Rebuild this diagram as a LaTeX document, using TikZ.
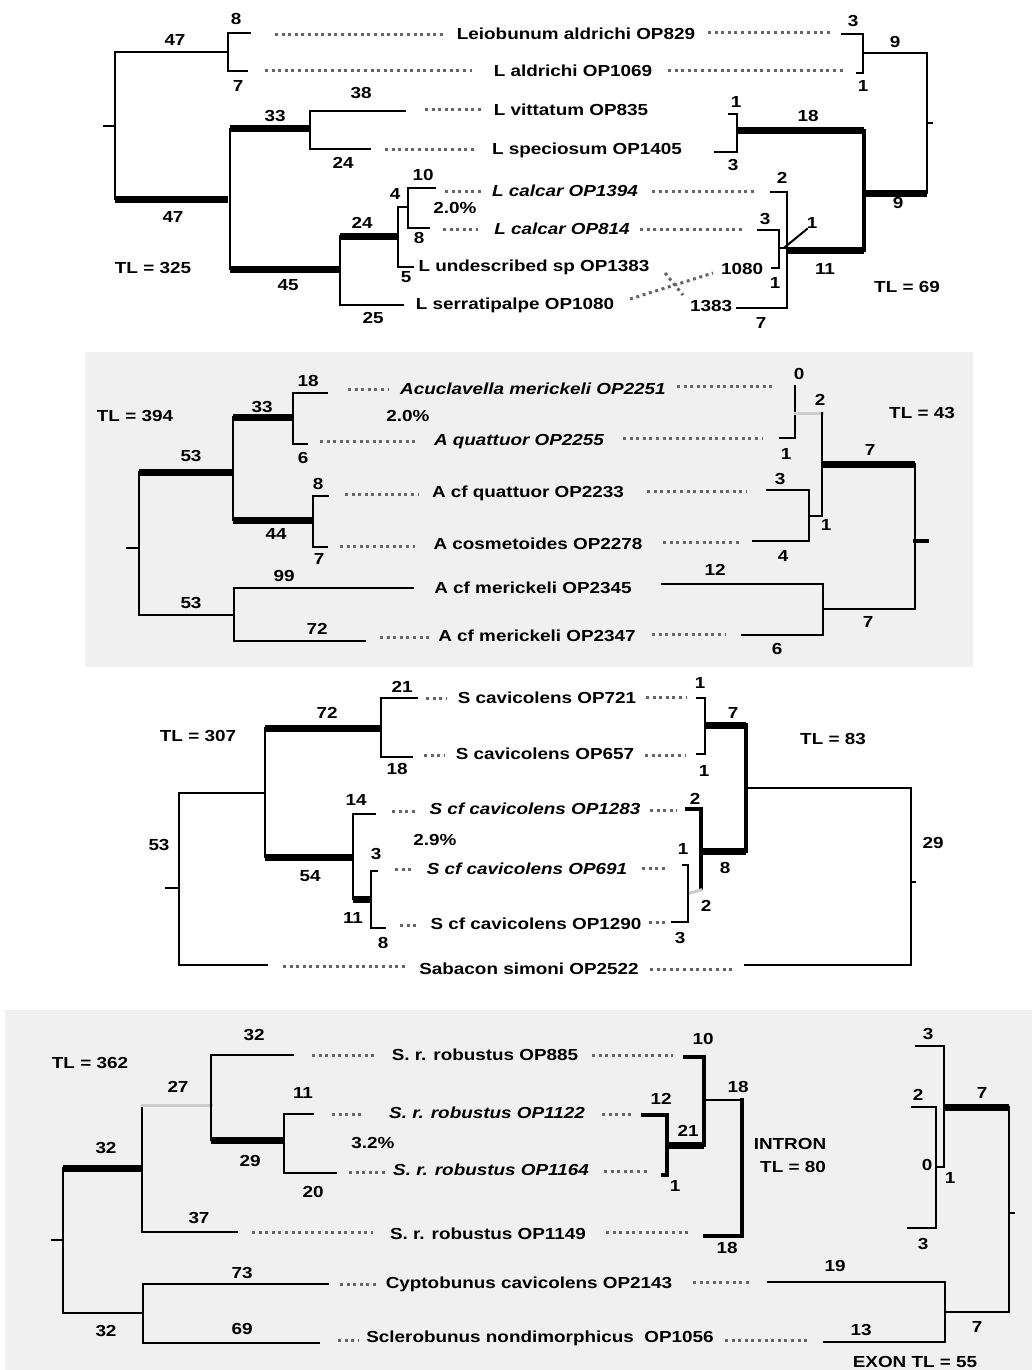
\documentclass[tikz,border=0pt]{standalone}
\usepackage{fontspec}
\setmainfont{Liberation Sans}[FakeStretch=1.18]
\tikzset{
  br/.style={line width=2pt},
  thk/.style={line width=7pt, line cap=butt},
  mid/.style={line width=3.2pt},
  faint/.style={gray!40, line width=3pt},
  dots/.style={black!60, line width=3pt, line cap=butt, dash pattern=on 3pt off 3.6pt},
  lbl/.style={font=\bfseries\fontsize{16}{16}\selectfont, inner sep=0pt, text height=11.5pt, text depth=0pt},
  taxon/.style={lbl},
  itaxon/.style={lbl, font=\bfseries\itshape\fontsize{16}{16}\selectfont},
  panel/.style={fill=black!6, draw=none}
}
\begin{document}
\begin{tikzpicture}[x=1pt, y=-1pt, line cap=rect]
\useasboundingbox (0,0) rectangle (1032,1370);
\fill[white] (0,0) rectangle (1032,1370);
% shaded panels
\fill[panel] (85,352) rectangle (973,667);
\fill[panel] (5,1010) rectangle (1032,1370);

%%% Panel 1 -- Leiobunum
% left tree
\draw[br] (104,126) -- (115,126);
\draw[br] (228,52) -- (115,52) -- (115,199);
\draw[thk] (115,199) -- (228,199);
\draw[br] (250,33) -| (228,71) -- (247,71);
\draw[br] (230,129) -- (230,269);
\draw[thk] (230,129) -- (310,129);
\draw[br] (405,111) -| (310,149) -- (370,149);
\draw[thk] (230,269) -- (340,269);
\draw[br] (340,236) -- (340,305) -- (403,305);
\draw[thk] (340,236) -- (398,236);
\draw[br] (408,207) -| (398,267) -- (413,267);
\draw[br] (435,188) -| (408,228) -- (429,228);
\node[lbl] (a1) at (175,40) {47};
\node[lbl] (a2) at (236,19) {8};
\node[lbl] (a3) at (238,86) {7};
\node[lbl] (a4) at (173,217) {47};
\node[lbl] (a5) at (275,116) {33};
\node[lbl] (a6) at (361,93) {38};
\node[lbl] (a7) at (343,163) {24};
\node[lbl] (a8) at (288,285) {45};
\node[lbl] (a9) at (362,223) {24};
\node[lbl] (a10) at (395,194) {4};
\node[lbl] (a11) at (423,175) {10};
\node[lbl] (a12) at (455,208) {2.0\%};
\node[lbl] (a13) at (419,238) {8};
\node[lbl] (a14) at (406,277) {5};
\node[lbl] (a15) at (373,318) {25};
\node[lbl] (a16) at (153,268) {TL = 325};
% taxa
\node[taxon] (t11) at (576,34) {Leiobunum aldrichi OP829};
\node[taxon] (t12) at (573,71) {L aldrichi OP1069};
\node[taxon] (t13) at (571,110) {L vittatum OP835};
\node[taxon] (t14) at (587,149) {L speciosum OP1405};
\node[itaxon] (t15) at (565,191) {L calcar OP1394};
\node[itaxon] (t16) at (562,229) {L calcar OP814};
\node[taxon] (t17) at (534,266) {L undescribed sp OP1383};
\node[taxon] (t18) at (515,304) {L serratipalpe OP1080};
\draw[dots] (275,35) -- (443,35);
\draw[dots] (265,71) -- (472,71);
\draw[dots] (425,110) -- (482,110);
\draw[dots] (385,149) -- (477,149);
\draw[dots] (445,191) -- (482,191);
\draw[dots] (443,229) -- (478,229);
\draw[dots] (708,33) -- (830,33);
\draw[dots] (668,71) -- (843,71);
\draw[dots] (652,191) -- (755,191);
\draw[dots] (640,229) -- (742,229);
\draw[dots] (630,299) -- (713,273);
\draw[dots] (665,273) -- (683,295);
% right tree
\draw[br] (842,34) -| (863,73) -- (857,73);
\draw[br] (863,53) -- (927,53) -- (927,193);
\draw[br] (927,123) -- (932,123);
\draw[thk] (927,193) -- (864,193);
\draw[mid] (864,131) -- (864,250);
\draw[thk] (864,131) -- (737,131);
\draw[br] (729,114) -| (737,152) -- (715,152);
\draw[thk] (864,250) -- (787,250);
\draw[br] (771,192) -| (787,308) -- (737,308);
\draw[br] (758,230) -| (779,268) -- (772,268);
\draw[br] (779,248) -- (787,248);
\draw[br] (785,247) -- (807,229);
\node[lbl] (b1) at (853,21) {3};
\node[lbl] (b2) at (895,42) {9};
\node[lbl] (b3) at (863,86) {1};
\node[lbl] (b4) at (736,102) {1};
\node[lbl] (b5) at (808,116) {18};
\node[lbl] (b6) at (733,165) {3};
\node[lbl] (b7) at (898,203) {9};
\node[lbl] (b8) at (782,178) {2};
\node[lbl] (b9) at (765,219) {3};
\node[lbl] (b10) at (812,223) {1};
\node[lbl] (b11) at (742,269) {1080};
\node[lbl] (b12) at (775,283) {1};
\node[lbl] (b13) at (711,306) {1383};
\node[lbl] (b14) at (761,323) {7};
\node[lbl] (b15) at (825,269) {11};
\node[lbl] (b16) at (907,287) {TL = 69};

%%% Panel 2 -- Acuclavella
% left tree
\draw[br] (127,548) -- (139,548);
\draw[br] (139,472) -- (139,615) -- (234,615);
\draw[thk] (139,472) -- (233,472);
\draw[br] (233,417) -- (233,520);
\draw[thk] (233,417) -- (293,417);
\draw[br] (327,393) -| (293,444) -- (307,444);
\draw[thk] (233,520) -- (313,520);
\draw[br] (328,496) -| (313,547) -- (327,547);
\draw[br] (413,588) -| (234,641) -- (365,641);
\node[lbl] (c1) at (191,456) {53};
\node[lbl] (c2) at (262,407) {33};
\node[lbl] (c3) at (308,381) {18};
\node[lbl] (c4) at (303,458) {6};
\node[lbl] (c5) at (408,416) {2.0\%};
\node[lbl] (c6) at (318,484) {8};
\node[lbl] (c7) at (276,534) {44};
\node[lbl] (c8) at (319,559) {7};
\node[lbl] (c9) at (284,576) {99};
\node[lbl] (c10) at (191,603) {53};
\node[lbl] (c11) at (317,629) {72};
\node[lbl] (c12) at (135,416) {TL = 394};
% taxa
\node[itaxon] (t21) at (533,389) {Acuclavella merickeli OP2251};
\node[itaxon] (t22) at (519,440) {A quattuor OP2255};
\node[taxon] (t23) at (528,492) {A cf quattuor OP2233};
\node[taxon] (t24) at (538,544) {A cosmetoides OP2278};
\node[taxon] (t25) at (533,588) {A cf merickeli OP2345};
\node[taxon] (t26) at (537,636) {A cf merickeli OP2347};
\draw[dots] (348,389) -- (388,389);
\draw[dots] (320,441) -- (418,441);
\draw[dots] (345,494) -- (418,494);
\draw[dots] (340,546) -- (415,546);
\draw[dots] (380,637) -- (430,637);
\draw[dots] (677,386) -- (773,386);
\draw[dots] (623,438) -- (762,438);
\draw[dots] (647,491) -- (747,491);
\draw[dots] (663,542) -- (740,542);
\draw[dots] (652,634) -- (725,634);
% right tree
\draw[br] (795,386) -- (795,438) -- (780,438);
\draw[faint] (795,413) -- (822,413);
\draw[br] (822,413) -- (822,516) -- (809,516);
\draw[thk] (822,464) -- (915,464);
\draw[br] (915,464) -- (915,609) -- (823,609);
\draw[mid] (915,541) -- (927,541);
\draw[br] (767,490) -| (809,541) -- (753,541);
\draw[br] (662,584) -| (823,635) -- (742,635);
\node[lbl] (d1) at (799,374) {0};
\node[lbl] (d2) at (820,400) {2};
\node[lbl] (d3) at (786,454) {1};
\node[lbl] (d4) at (922,413) {TL = 43};
\node[lbl] (d5) at (870,450) {7};
\node[lbl] (d6) at (780,479) {3};
\node[lbl] (d7) at (826,525) {1};
\node[lbl] (d8) at (783,556) {4};
\node[lbl] (d9) at (715,570) {12};
\node[lbl] (d10) at (868,622) {7};
\node[lbl] (d11) at (777,649) {6};

%%% Panel 3 -- Sabacon
% left tree
\draw[br] (166,888) -- (179,888);
\draw[br] (265,793) -| (179,965) -- (267,965);
\draw[br] (265,728) -- (265,857);
\draw[thk] (265,728) -- (381,728);
\draw[br] (417,698) -| (381,757) -- (412,757);
\draw[thk] (265,857) -- (353,857);
\draw[br] (375,814) -| (353,899);
\draw[thk] (353,899) -- (371,899);
\draw[br] (377,871) -| (371,928) -- (385,928);
\node[lbl] (e1) at (402,687) {21};
\node[lbl] (e2) at (327,713) {72};
\node[lbl] (e3) at (198,736) {TL = 307};
\node[lbl] (e4) at (397,769) {18};
\node[lbl] (e5) at (356,800) {14};
\node[lbl] (e6) at (159,845) {53};
\node[lbl] (e7) at (435,840) {2.9\%};
\node[lbl] (e8) at (376,854) {3};
\node[lbl] (e9) at (310,876) {54};
\node[lbl] (e10) at (353,918) {11};
\node[lbl] (e11) at (383,943) {8};
% taxa
\node[taxon] (t31) at (547,698) {S cavicolens OP721};
\node[taxon] (t32) at (545,754) {S cavicolens OP657};
\node[itaxon] (t33) at (535,809) {S cf cavicolens OP1283};
\node[itaxon] (t34) at (527,869) {S cf cavicolens OP691};
\node[taxon] (t35) at (536,924) {S cf cavicolens OP1290};
\node[taxon] (t36) at (529,969) {Sabacon simoni OP2522};
\draw[dots] (426,698) -- (446,698);
\draw[dots] (424,755) -- (445,755);
\draw[dots] (392,811) -- (418,811);
\draw[dots] (395,869) -- (413,869);
\draw[dots] (400,925) -- (418,925);
\draw[dots] (283,966) -- (407,966);
\draw[dots] (646,697) -- (687,697);
\draw[dots] (645,755) -- (686,755);
\draw[dots] (650,810) -- (677,810);
\draw[dots] (642,868) -- (668,868);
\draw[dots] (649,922) -- (666,922);
\draw[dots] (650,969) -- (733,969);
% right tree
\draw[br] (697,698) -| (705,754) -- (697,754);
\draw[thk] (705,725) -- (746,725);
\draw[mid] (746,725) -- (746,851);
\draw[br] (746,788) -- (911,788) -- (911,965) -- (745,965);
\draw[br] (911,882) -- (915,882);
\draw[thk] (746,851) -- (701,851);
\draw[mid] (687,809) -| (701,888);
\draw[faint] (701,890) -- (690,893);
\draw[br] (683,865) -| (688,922) -- (672,922);
\node[lbl] (f1) at (700,683) {1};
\node[lbl] (f2) at (733,713) {7};
\node[lbl] (f3) at (833,739) {TL = 83};
\node[lbl] (f4) at (704,771) {1};
\node[lbl] (f5) at (695,799) {2};
\node[lbl] (f6) at (933,843) {29};
\node[lbl] (f7) at (683,849) {1};
\node[lbl] (f8) at (725,868) {8};
\node[lbl] (f9) at (706,906) {2};
\node[lbl] (f10) at (680,938) {3};

%%% Panel 4 -- Sclerobunus
% left tree
\draw[br] (52,1240) -- (63,1240);
\draw[thk] (63,1168) -- (142,1168);
\draw[br] (63,1168) -- (63,1313) -- (143,1313);
\draw[br] (142,1105) -- (142,1232) -- (237,1232);
\draw[faint] (142,1105) -- (211,1105);
\draw[br] (293,1055) -| (211,1140);
\draw[thk] (211,1140) -- (284,1140);
\draw[br] (313,1114) -| (284,1173) -- (336,1173);
\draw[br] (328,1284) -| (143,1343) -- (319,1343);
\node[lbl] (g1) at (254,1035) {32};
\node[lbl] (g2) at (90,1063) {TL = 362};
\node[lbl] (g3) at (178,1087) {27};
\node[lbl] (g4) at (303,1093) {11};
\node[lbl] (g5) at (106,1148) {32};
\node[lbl] (g6) at (373,1143) {3.2\%};
\node[lbl] (g7) at (250,1161) {29};
\node[lbl] (g8) at (313,1192) {20};
\node[lbl] (g9) at (199,1218) {37};
\node[lbl] (g10) at (242,1273) {73};
\node[lbl] (g11) at (106,1331) {32};
\node[lbl] (g12) at (242,1329) {69};
% taxa
\node[taxon] (t41) at (485,1055) {S. r. robustus OP885};
\node[itaxon] (t42) at (487,1113) {S. r. robustus OP1122};
\node[itaxon] (t43) at (491,1170) {S. r. robustus OP1164};
\node[taxon] (t44) at (488,1234) {S. r. robustus OP1149};
\node[taxon] (t45) at (529,1283) {Cyptobunus cavicolens OP2143};
\node[taxon] (t46) at (540,1337) {Sclerobunus nondimorphicus\ \ OP1056};
\draw[dots] (312,1055) -- (378,1055);
\draw[dots] (332,1114) -- (365,1114);
\draw[dots] (349,1172) -- (385,1172);
\draw[dots] (252,1232) -- (373,1232);
\draw[dots] (340,1284) -- (377,1284);
\draw[dots] (338,1340) -- (359,1340);
\draw[dots] (592,1055) -- (673,1055);
\draw[dots] (602,1114) -- (634,1114);
\draw[dots] (604,1171) -- (648,1171);
\draw[dots] (606,1232) -- (689,1232);
\draw[dots] (693,1282) -- (752,1282);
\draw[dots] (725,1340) -- (808,1340);
% intron tree
\draw[mid] (685,1057) -| (704,1145);
\draw[thk] (704,1145) -- (667,1145);
\draw[mid] (643,1115) -| (667,1175) -- (663,1175);
\draw[br] (704,1100) -- (742,1100);
\draw[mid] (742,1100) -- (742,1236) -- (705,1236);
\node[lbl] (h1) at (703,1039) {10};
\node[lbl] (h2) at (738,1087) {18};
\node[lbl] (h3) at (661,1099) {12};
\node[lbl] (h4) at (688,1131) {21};
\node[lbl] (h5) at (790,1144) {INTRON};
\node[lbl] (h6) at (793,1167) {TL = 80};
\node[lbl] (h7) at (675,1186) {1};
\node[lbl] (h8) at (727,1248) {18};
% exon tree
\draw[br] (916,1046) -| (944,1167) -- (936,1167);
\draw[br] (912,1107) -| (936,1228) -- (908,1228);
\draw[thk] (944,1107) -- (1009,1107);
\draw[br] (1009,1107) -- (1009,1312) -- (945,1312);
\draw[br] (1009,1213) -- (1014,1213);
\draw[br] (768,1282) -| (945,1342) -- (824,1342);
\node[lbl] (k1) at (928,1034) {3};
\node[lbl] (k2) at (918,1095) {2};
\node[lbl] (k3) at (982,1093) {7};
\node[lbl] (k4) at (927,1165) {0};
\node[lbl] (k5) at (950,1178) {1};
\node[lbl] (k6) at (923,1244) {3};
\node[lbl] (k7) at (835,1266) {19};
\node[lbl] (k8) at (977,1327) {7};
\node[lbl] (k9) at (861,1330) {13};
\node[lbl] (k10) at (915,1362) {EXON TL = 55};
\end{tikzpicture}
\end{document}
